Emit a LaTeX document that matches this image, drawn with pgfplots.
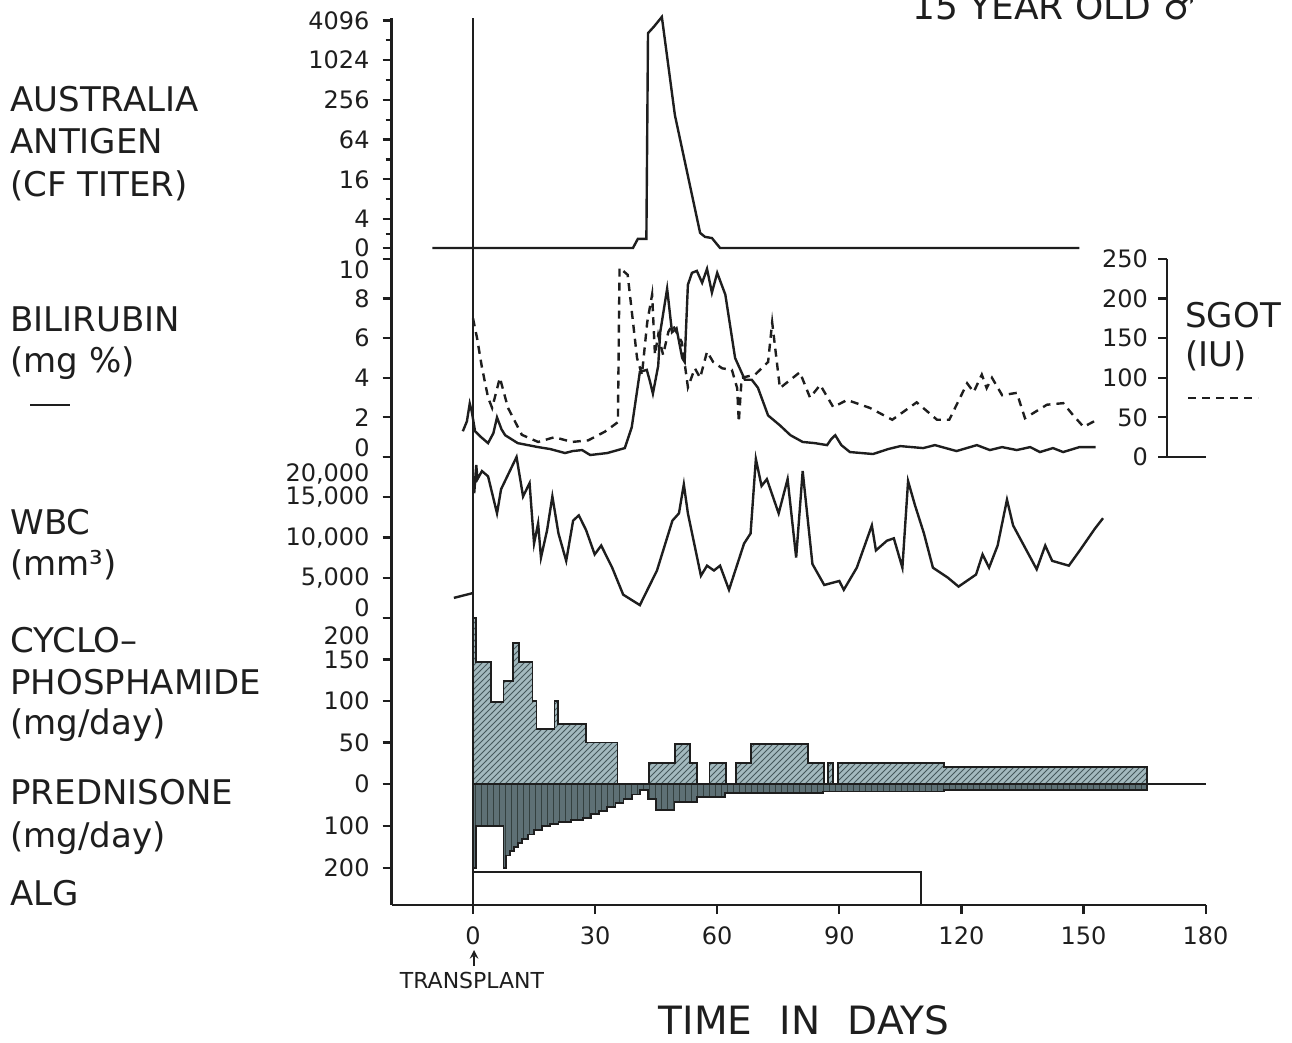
\documentclass[border=0pt]{standalone}
\usepackage{fontspec}
\setmainfont{DejaVu Sans}
\usepackage{pgfplots}
\usepackage{pgfplotstable}
\pgfplotsset{compat=1.18}
\usetikzlibrary{patterns}

\definecolor{ink}{HTML}{1E1E1E}
\definecolor{cycfill}{HTML}{A3B9BE}
\definecolor{cychatch}{HTML}{46585C}
\definecolor{predfill}{HTML}{5E7075}
\definecolor{predhatch}{HTML}{34403F}

\newcommand{\tl}{\fontsize{12}{12}\selectfont}
\newcommand{\lab}{\fontsize{17}{17}\selectfont}

% bilirubin, mg %
\pgfplotstableread{
day val
-2.5 1.3
-1.5 1.8
-0.8 2.7
-0.3 2.3
0.5 1.3
2 1.0
3.7 0.7
5 1.2
5.9 2.0
7 1.4
7.9 1.1
11 0.7
16 0.5
19 0.4
22.6 0.2
24.5 0.3
26.8 0.35
28.8 0.1
33 0.2
37.3 0.45
39 1.5
40.5 3.6
41 4.3
42.7 4.4
43.5 3.8
44.2 3.2
45.5 4.6
46 6.3
47.7 8.5
48.9 6.3
50 6.5
51.4 5.0
52 4.8
52.8 8.7
53.8 9.3
55 9.4
56.3 8.8
57.5 9.5
58.7 8.3
60 9.3
62 8.2
64.4 5.0
66.8 3.9
68.5 3.9
70 3.5
72.5 2.1
75.4 1.6
78 1.1
81 0.76
84 0.7
87 0.6
88 0.9
89 1.1
90.5 0.6
92.6 0.25
98.3 0.15
102 0.4
105 0.55
110.6 0.45
113.5 0.6
118.8 0.3
123.8 0.6
127 0.35
130 0.5
133.6 0.35
136.9 0.5
139.3 0.25
142.5 0.45
145 0.25
149 0.5
153 0.5
}\bili

% SGOT, IU
\pgfplotstableread{
day val
0 175
1 150
2.2 113
3.7 75
4.7 62
6.6 100
8.6 62
12 28
16 19
20 25
24.3 19
28.3 21
32.4 32
35.6 44
36 239
38 230
40.3 125
41.5 104
42.8 170
44 205
44.7 129
45.5 154
46.7 129
48 158
49 167
51.3 145
52.8 88
54.5 112
55.8 100
57.5 133
59 120
61.2 112
63.6 110
64.9 87
65.3 44
66 100
69.3 104
72.5 120
73.5 170
75.4 87
80.3 107
82.8 75
85.3 91
88.5 63
91.9 72
97.5 62
103 47
109 69
114 47
117 47
121.4 93
123 82
125 104
126.2 87
127.5 100
130 78
133.6 81
135.6 49
141 66
145 68
147.4 53
150 38
153.3 47
}\sgot

% WBC per mm3
\pgfplotstableread{
day val
0.3 15500
0.8 19000
1.1 17250
2.2 18250
3.7 17600
5.9 13000
6.9 16000
10.7 20000
12.3 15100
13.9 16750
15 9250
16 11750
16.7 7500
18.2 10900
19.5 15100
21 10500
22.9 7100
24.6 12100
26 12750
27.8 10900
29.9 7900
31.5 9000
34.2 6250
36.9 2900
41 1600
45.2 5900
49 12100
50.6 13000
51.8 16600
52.8 13000
56 5250
57.5 6500
59.2 5900
60.7 6500
62.9 3500
66.6 9250
68.2 10500
69.5 19750
70.9 16400
72.2 17250
75.1 13000
77.3 17250
79.4 7500
81 18250
83.4 6700
86.3 4100
90 4600
91.1 3500
94.3 6250
98 11500
99 8400
101.7 9600
103.4 9900
105.5 6250
106.9 17000
108.6 14000
110.8 10500
113 6250
116.7 5000
119.3 3900
123.6 5400
125.2 7900
126.8 6250
128.9 9000
131.2 14700
132.7 11500
138.5 6050
140.6 9000
142.3 7100
146.4 6500
149.1 8400
152.8 11100
154.8 12400
}\wbc

% cyclophosphamide, mg/day (step starts)
\pgfplotstableread{
day val
0 200
0.8 147
4.4 99
7.5 124
9.8 170
11.4 147
14.6 100
15.6 66
20 100
20.8 72
27.8 50
35.5 0
43.2 25
49.7 48
53.3 25
55 0
58.1 25
62.2 0
64.6 25
68.3 48
82.3 25
86.2 0
87.2 25
88.5 0
89.7 25
115.8 20
165.6 0
}\cyc

% prednisone, mg/day (step starts)
\pgfplotstableread{
day val
0 200
0.8 100
7.5 200
8.2 170
9 160
10 150
11 140
12 130
13.5 120
15 110
17 100
19 95
21 90
24 85
27 80
29 72
31 65
33 55
35 45
37 35
39 25
41 15
43 35
45 62
49.5 42
55 30
62 22
86 18
115.8 15
165.6 0
}\pred

\pgfplotsset{
  panel/.style={
    scale only axis, width=407pt,
    xmin=-20, xmax=180,
    axis y line*=left,
    axis line style={-, ink, line width=1.3pt},
    tick align=outside, major tick length=4.5pt, minor tick length=3pt,
    tick style={ink, line width=1.1pt},
    yticklabel style={font=\tl, xshift=-3pt, text=ink},
    scaled y ticks=false,
    clip=false,
  },
  nox/.style={axis x line=none},
  curve/.style={ink, line width=1.2pt, mark=none},
}

\begin{document}
\begin{tikzpicture}
\useasboundingbox (0pt,0pt) rectangle (646pt,-521.5pt);

% Australia antigen (titer levels 0,4,16,...,4096)
\begin{axis}[panel, nox, at={(195.8pt,-129.35pt)}, anchor=south west, height=120.5pt,
  ymin=0, ymax=6.07,
  ytick={0.27,1,2,3,4,5,6}, yticklabels={0,4,16,64,256,1024,4096},
  minor ytick={0.63,1.5,2.5,3.5,4.5,5.5}]
\addplot[curve] coordinates {(-10,0.27) (39.3,0.27) (40.5,0.5) (42.6,0.5) (43.0,5.68) (44.5,5.85) (46.4,6.09) (49.6,3.62) (55.8,0.65) (57,0.55) (58.7,0.52) (60.7,0.27) (149,0.27)};
\addplot[curve] coordinates {(0,0) (0,6.07)};
\end{axis}

% bilirubin
\begin{axis}[panel, nox, at={(195.8pt,-228.5pt)}, anchor=south west, height=99pt,
  ymin=0, ymax=10, ytick={0,2,4,6,8,10},
  yticklabels={{\raisebox{4.5pt}[\height][\depth]{0}},2,4,6,8,{\raisebox{-5.5pt}[\height][\depth]{10}}}]
\addplot[curve] table[x=day, y=val] {\bili};
\addplot[curve] coordinates {(0,0) (0,10)};
\end{axis}

% SGOT, right scale
\begin{axis}[panel, nox, at={(195.8pt,-228.5pt)}, anchor=south west, height=99pt, width=387.7pt,
  xmin=-20, xmax=170.5, axis y line*=right, tick align=inside,
  yticklabel style={anchor=east, xshift=-3pt},
  ymin=0, ymax=250, ytick={0,50,100,150,200,250},
  yticklabels={0,50,100,150,200,250}]
\addplot[curve, dash pattern=on 4pt off 3pt] table[x=day, y=val] {\sgot};
\addplot[ink, line width=1.3pt] coordinates {(170.5,0) (180,0)};
\end{axis}

% WBC
\begin{axis}[panel, nox, at={(195.8pt,-309pt)}, anchor=south west, height=80.5pt,
  ymin=0, ymax=20000, ytick={0,5000,10000,15000,20000},
  yticklabels={{\raisebox{5pt}[\height][\depth]{0}},{5,000},{10,000},{15,000},{\raisebox{-8.5pt}[\height][\depth]{20,000}}}]
\addplot[curve] table[x=day, y=val] {\wbc};
\addplot[curve] coordinates {(-4.7,2500) (0,3100)};
\addplot[curve] coordinates {(0,0) (0,20000)};
\end{axis}

% cyclophosphamide + time axis
\begin{axis}[panel, at={(195.8pt,-452.5pt)}, anchor=south west, height=143.5pt,
  ymin=-145.8, ymax=200, axis x line*=bottom,
  ytick={0,50,100,150,200},
  yticklabels={0,50,100,150,{\raisebox{-9pt}[\height][\depth]{200}}},
  xtick={0,30,60,90,120,150,180}, xticklabels={0,30,60,90,120,150,180},
  xticklabel style={font=\tl, yshift=-3pt, text=ink}]
\addplot[const plot, draw=ink, line width=0.9pt, fill=cycfill,
  postaction={pattern=north east lines, pattern color=cychatch}] table[x=day, y=val] {\cyc} \closedcycle;
\end{axis}

% prednisone (downwards) and ALG
\begin{axis}[panel, nox, at={(195.8pt,-452.5pt)}, anchor=south west, height=143.5pt,
  y dir=reverse, ymin=-395.2, ymax=288.1, ytick={100,200}, yticklabels={100,200}]
\addplot[const plot, draw=ink, line width=0.9pt, fill=predfill,
  postaction={pattern=vertical lines, pattern color=predhatch}] table[x=day, y=val] {\pred} \closedcycle;
\addplot[ink, line width=1.1pt] coordinates {(0,0) (180,0)};
\addplot[ink, line width=1pt] coordinates {(0,288.1) (0,209.5) (110,209.5) (110,288.1)};
\addplot[curve] coordinates {(0,-395.2) (0,305)};
\end{axis}

% labels, in image pixel units
\begin{scope}[x=0.5pt, y=-0.5pt]
\begin{scope}[every node/.style={anchor=base west, font=\lab, text=ink, inner sep=0pt}]
\node at (10,112) {AUSTRALIA};
\node at (10,154) {ANTIGEN};
\node at (10,197) {(CF TITER)};
\node at (10,332) {BILIRUBIN};
\node at (10,373) {(mg \%)};
\node at (10,534) {WBC};
\node at (10,575) {(mm³)};
\node at (10,652) {CYCLO–};
\node at (10,694) {PHOSPHAMIDE};
\node at (10,734) {(mg/day)};
\node at (10,804) {PREDNISONE};
\node at (10,847) {(mg/day)};
\node at (10,905) {ALG};
\node at (1185,328) {SGOT};
\node at (1185,367) {(IU)};
\node[font=\fontsize{18}{18}\selectfont] at (912,20) {15 YEAR OLD ♂};
\end{scope}
\draw[ink, line width=1.3pt] (30,405) -- (70,405);
\draw[ink, line width=1.3pt, dash pattern=on 4pt off 3pt] (1188,398) -- (1258,398);
\draw[ink, line width=0.9pt, -stealth] (474,966) -- (474,950);
\node[font=\fontsize{11}{11}\selectfont, text=ink, anchor=base] at (472,988) {TRANSPLANT};
\node[font=\fontsize{19.5}{19.5}\selectfont, text=ink, anchor=base] at (804,1034) {TIME\hspace{0.7em}IN\hspace{0.7em}DAYS};
\end{scope}
\end{tikzpicture}
\end{document}
